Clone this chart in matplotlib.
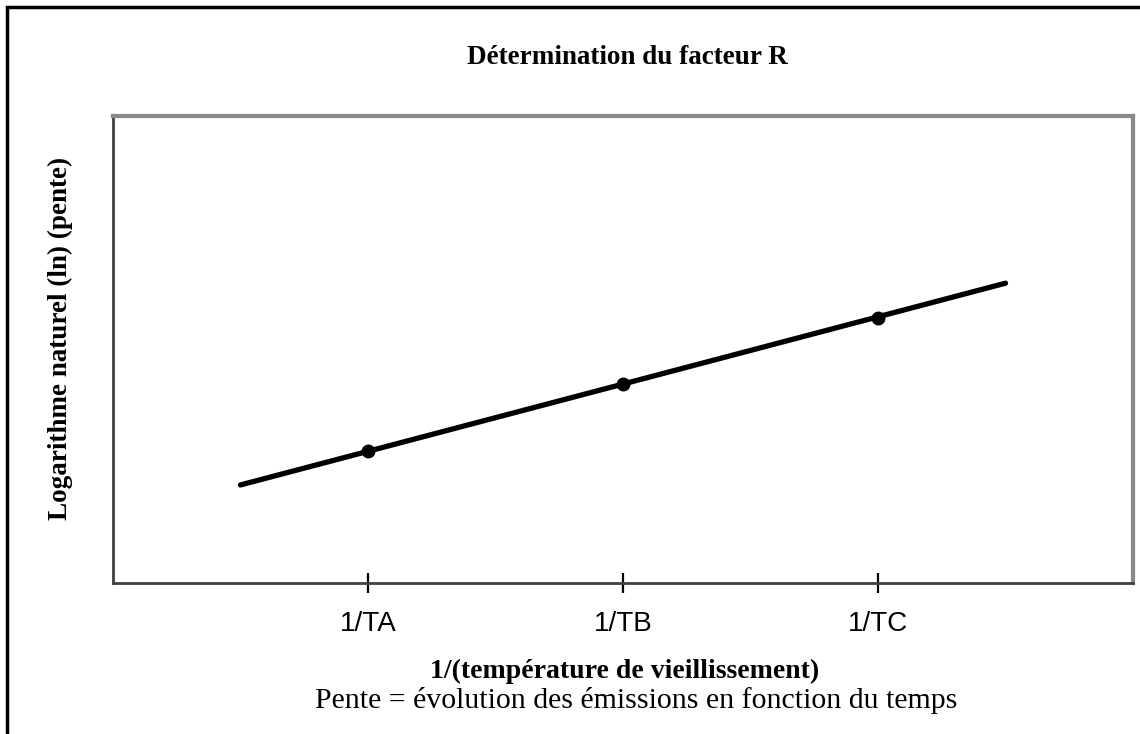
import matplotlib.pyplot as plt
from matplotlib.patches import Rectangle

# points mesurés (1/T, ln(pente))
x_points = [1, 2, 3]
y_points = [0.283, 0.426, 0.567]
# droite de régression prolongée
x_line = [0.5, 3.5]
y_line = [0.21, 0.642]
tick_labels = ['1/TA', '1/TB', '1/TC']

fig = plt.figure(figsize=(11.4, 7.34), dpi=100)
fig.patches.append(Rectangle((7 / 1140, -0.05), 1.2, 1 - 7 / 734 + 0.05,
                             transform=fig.transFigure, fill=False,
                             edgecolor='black', linewidth=2.5))

ax = fig.add_axes([113 / 1140, 1 - 583 / 734, (1133 - 113) / 1140, (583 - 116) / 734])
ax.plot(x_line, y_line, color='black', linewidth=3.8, solid_capstyle='round')
ax.plot(x_points, y_points, 'o', color='black', markersize=9)

ax.set_xlim(0, 4)
ax.set_ylim(0, 1)
ax.set_xticks(x_points)
ax.set_xticklabels(tick_labels, fontfamily='Liberation Sans', fontsize=20)
ax.set_yticks([])
ax.tick_params(axis='x', direction='inout', length=15, width=1.6, pad=13, colors='black')

for s in ['top', 'right']:
    ax.spines[s].set_color('#8a8a8a')
    ax.spines[s].set_linewidth(3)
for s in ['left', 'bottom']:
    ax.spines[s].set_color('#404040')
    ax.spines[s].set_linewidth(2)

fig.text(627 / 1140, 1 - 57 / 734, 'Détermination du facteur R', ha='center', va='center',
         fontfamily='Liberation Serif', fontweight='bold', fontsize=19.5)
fig.text(60 / 1140, 1 - 338 / 734, 'Logarithme naturel (ln) (pente)', ha='center', va='center',
         rotation=90, fontfamily='Liberation Serif', fontweight='bold', fontsize=19.5)
fig.text(625 / 1140, 1 - 671 / 734, '1/(température de vieillissement)', ha='center', va='center',
         fontfamily='Liberation Serif', fontweight='bold', fontsize=20)
fig.text(636 / 1140, 1 - 701 / 734, 'Pente = évolution des émissions en fonction du temps',
         ha='center', va='center', fontfamily='Liberation Serif', fontsize=21.5)

fig.savefig('out.png', dpi=100)
